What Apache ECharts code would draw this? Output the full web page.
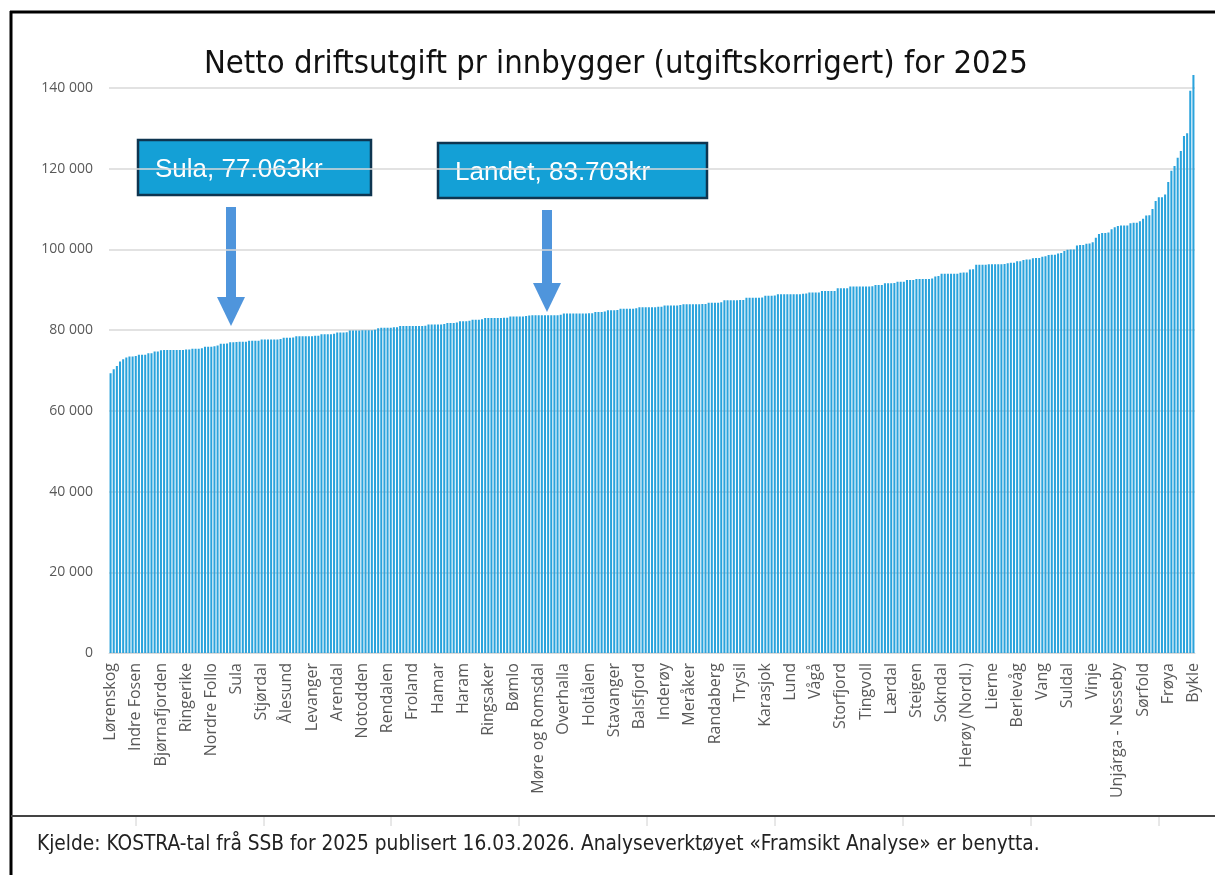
<!DOCTYPE html>
<html>
<head>
<meta charset="utf-8">
<script src="https://cdn.jsdelivr.net/npm/echarts@6/dist/echarts.min.js"></script>
<style>
  html, body { margin: 0; padding: 0; background: #fff; }
  #chart { width: 1215px; height: 875px; }
</style>
</head>
<body>
<div id="chart"></div>
<script>
// every 8th municipality is labelled on the axis
const labelNames = [
  'Lørenskog', 'Indre Fosen', 'Bjørnafjorden', 'Ringerike', 'Nordre Follo', 'Sula',
  'Stjørdal', 'Ålesund', 'Levanger', 'Arendal', 'Notodden', 'Rendalen', 'Froland',
  'Hamar', 'Haram', 'Ringsaker', 'Bømlo', 'Møre og Romsdal', 'Overhalla', 'Holtålen',
  'Stavanger', 'Balsfjord', 'Inderøy', 'Meråker', 'Randaberg', 'Trysil', 'Karasjok',
  'Lund', 'Vågå', 'Storfjord', 'Tingvoll', 'Lærdal', 'Steigen', 'Sokndal',
  'Herøy (Nordl.)', 'Lierne', 'Berlevåg', 'Vang', 'Suldal', 'Vinje',
  'Unjárga - Nesseby', 'Sørfold', 'Frøya', 'Bykle'
];
const labelStep = 8;

// kr per innbyggar, sorted ascending
const values = [
  69300, 70300, 71100, 72200, 72800, 73200, 73500, 73500, 73600, 73900, 73900, 73900, 74300, 74300, 74700, 74700,
  75000, 75100, 75100, 75100, 75100, 75100, 75100, 75100, 75200, 75200, 75400, 75400, 75400, 75500,
  75900, 75900, 75900, 76000, 76200, 76600, 76600, 76700, 77000, 77000, 77063, 77100, 77100, 77100, 77400, 77400, 77400, 77400,
  77700, 77700, 77700, 77700, 77700, 77700, 77800,
  78100, 78100, 78100, 78200,
  78500, 78500, 78500, 78500, 78500, 78500, 78600, 78600,
  79000, 79000, 79000, 79000, 79100,
  79400, 79400, 79400, 79500,
  79900, 79900, 79900, 79900, 80000, 80000, 80000, 80000, 80100,
  80500, 80600, 80600, 80600, 80600, 80700, 80700,
  81000, 81000, 81000, 81000, 81000, 81000, 81000, 81000, 81100,
  81400, 81400, 81400, 81400, 81400, 81500,
  81800, 81800, 81800, 81900,
  82200, 82200, 82200, 82300,
  82600, 82600, 82600, 82700,
  83000, 83000, 83000, 83000, 83000, 83000, 83100, 83100,
  83400, 83400, 83400, 83400, 83400, 83500,
  83600, 83700, 83700, 83700, 83700, 83700, 83703, 83700, 83700, 83700, 83800,
  84100, 84100, 84100, 84100, 84100, 84100, 84100, 84100, 84200, 84200,
  84500, 84500, 84500, 84600,
  84900, 84900, 84900, 85000,
  85300, 85300, 85300, 85300, 85300, 85400,
  85700, 85700, 85700, 85700, 85700, 85700, 85800, 85800,
  86100, 86100, 86100, 86100, 86100, 86200,
  86400, 86400, 86400, 86400, 86400, 86400, 86500, 86500,
  86800, 86800, 86800, 86800, 86900,
  87400, 87400, 87400, 87400, 87400, 87500, 87500,
  88000, 88000, 88000, 88000, 88000, 88100,
  88500, 88500, 88500, 88600,
  88900, 88900, 88900, 88900, 88900, 88900, 88900, 88900,
  89000, 89100,
  89300, 89300, 89300, 89300,
  89700, 89700, 89700, 89700, 89700,
  90400, 90400, 90400, 90400,
  90800, 90800, 90800, 90800, 90800, 90800, 90800, 90900,
  91200, 91200, 91200,
  91600, 91600, 91600, 91700,
  92000, 92000, 92000,
  92400, 92400, 92400,
  92700, 92700, 92700, 92700, 92700, 92800,
  93300, 93400,
  94000, 94000, 94000, 94000, 94000, 94000,
  94200, 94300, 94300,
  95000, 95100,
  96200, 96200, 96200, 96200, 96300, 96300, 96300, 96300, 96300, 96400,
  96600, 96700, 96700,
  97100, 97100,
  97400, 97500, 97500,
  97800, 97900, 97900,
  98200, 98300,
  98600, 98700, 98700,
  99000, 99100,
  99600,
  99900, 100000, 100000,
  101000, 101100, 101100,
  101400, 101500,
  101800, 102900, 103800, 104100, 104100, 104200, 105000, 105500,
  105800, 105900, 105900, 105900,
  106500, 106600, 106600, 107000, 107600, 108400, 108500,
  110000, 112000, 112900, 112900, 113600, 116700, 119500, 120700,
  122700, 124400, 128100, 128800, 139300, 143200
];

const categories = values.map((v, i) => (i % labelStep === 0 ? (labelNames[i / labelStep] || '') : ''));

const yTicks = { min: 0, max: 140000, step: 20000 };

const narrow = '"Liberation Sans Narrow", "DejaVu Sans Condensed", sans-serif';

const chart = echarts.init(document.getElementById('chart'), null, { renderer: 'canvas' });

function arrow(cx, top, shaftBottom, tip) {
  return {
    type: 'group',
    children: [
      { type: 'rect', shape: { x: cx - 5, y: top, width: 10, height: shaftBottom - top + 2 },
        style: { fill: '#4f95dc' } },
      { type: 'polygon', shape: { points: [[cx - 14, shaftBottom], [cx + 14, shaftBottom], [cx, tip]] },
        style: { fill: '#4f95dc' } }
    ]
  };
}

function callout(x, y, w, h, text) {
  return {
    type: 'group',
    children: [
      { type: 'rect', shape: { x: x, y: y, width: w, height: h },
        style: { fill: '#14a0d6', stroke: '#0e3550', lineWidth: 2.5 } },
      { type: 'text', x: x + 17, y: y + h / 2 + 2,
        style: { text: text, fill: '#ffffff', font: '26px "Liberation Sans", Arial, sans-serif',
          verticalAlign: 'middle' } }
    ]
  };
}

const footTicks = [136, 264, 391, 519, 647, 775, 903, 1031, 1159].map(x => ({
  type: 'line', shape: { x1: x, y1: 817, x2: x, y2: 826 },
  style: { stroke: '#d0d0d0', lineWidth: 1 }
}));

const options = {
  animation: false,
  backgroundColor: '#ffffff',
  title: {
    text: 'Netto driftsutgift pr innbygger (utgiftskorrigert) for 2025',
    left: 199,
    top: 43,
    textStyle: { fontFamily: narrow, fontSize: 32.5, fontWeight: 'normal', color: '#111111' }
  },
  grid: { left: 109, right: 20, top: 88, bottom: 222 },
  xAxis: {
    type: 'category',
    data: categories,
    axisLine: { lineStyle: { color: '#d9d9d9' } },
    axisTick: { show: false },
    axisLabel: {
      interval: labelStep - 1,
      rotate: 90,
      margin: 10,
      color: '#595959',
      fontSize: 16,
      fontFamily: '"Open Sans", sans-serif'
    }
  },
  yAxis: {
    type: 'value',
    min: yTicks.min,
    max: yTicks.max,
    interval: yTicks.step,
    axisLine: { show: false },
    axisTick: { show: false },
    splitLine: { lineStyle: { color: '#d9d9d9', width: 1.5 } },
    axisLabel: {
      margin: 16,
      color: '#595959',
      fontSize: 14,
      fontFamily: '"Open Sans", sans-serif',
      formatter: v => String(v).replace(/\B(?=(\d{3})+(?!\d))/g, ' ')
    }
  },
  series: [{
    type: 'bar',
    data: values,
    clip: false,
    barCategoryGap: '35%',
    itemStyle: { color: '#2aa3dc' }
  }],
  graphic: [
    // frame
    { type: 'line', shape: { x1: 11, y1: 11, x2: 11, y2: 875 }, style: { stroke: '#000', lineWidth: 3 } },
    { type: 'line', shape: { x1: 10, y1: 12, x2: 1215, y2: 12 }, style: { stroke: '#000', lineWidth: 3 } },
    { type: 'line', shape: { x1: 11, y1: 816, x2: 1215, y2: 816 }, style: { stroke: '#444', lineWidth: 2 } },
    ...footTicks,
    {
      type: 'text', left: 37, top: 834,
      style: {
        text: 'Kjelde: KOSTRA-tal frå SSB for 2025 publisert 16.03.2026. Analyseverktøyet «Framsikt Analyse» er benytta.',
        fill: '#222', font: '20.7px ' + narrow
      }
    },
    callout(138, 140, 233, 55, 'Sula, 77.063kr'),
    callout(438, 143, 269, 55, 'Landet, 83.703kr'),
    arrow(231, 207, 297, 326),
    arrow(547, 210, 283, 312)
  ]
};

chart.setOption(options);
</script>
</body>
</html>
